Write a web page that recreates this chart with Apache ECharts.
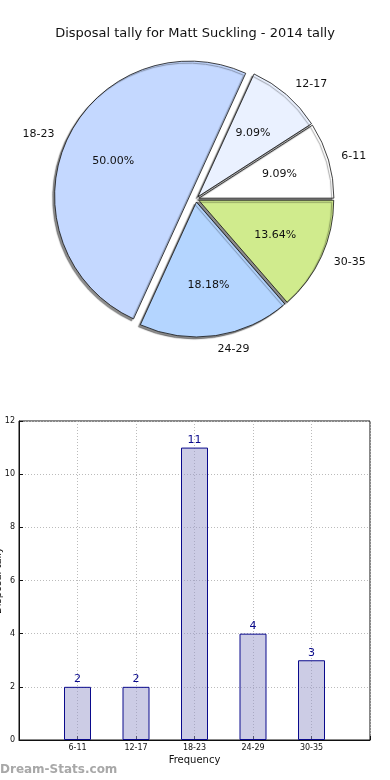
<!DOCTYPE html>
<html><head><meta charset="utf-8">
<script src="https://cdn.jsdelivr.net/npm/echarts@6/dist/echarts.min.js"></script>
<style>html,body{margin:0;padding:0;background:#fff}#c{width:390px;height:780px}</style>
</head><body><div id="c"></div>
<script>
// ---- data ----
const titleText = 'Disposal tally for Matt Suckling - 2014 tally';
const categories = ['6-11', '12-17', '18-23', '24-29', '30-35'];
const counts = [2, 2, 11, 4, 3];
const xAxisName = 'Frequency';
const yAxisName = 'Disposal tally';
const watermark = 'Dream-Stats.com';

// ---- styles ----
const sliceColors = ['#ffffff', '#eaf1ff', '#c4d8ff', '#b4d5ff', '#d0eb8d'];
const explode = [3, 3, 7, 3, 3];
const R = 135;
const CENTER = [196, 199];
const FONT = 'DejaVu Sans';

const total = counts.reduce((a, b) => a + b, 0);

function pieSeries(offset, mode) {
  const idxs = categories.map((c, i) => i).filter(i => explode[i] === offset);
  const data = categories.map((c, i) => {
    const visible = idxs.includes(i);
    return {
      name: c, value: counts[i], selected: true,
      itemStyle: visible ? (mode === 'shape' ? {
        color: sliceColors[i], borderColor: '#111', borderWidth: 0.8,
        shadowColor: 'rgba(0,0,0,0.45)', shadowBlur: 1, shadowOffsetX: -2, shadowOffsetY: 2
      } : { color: 'rgba(0,0,0,0)', borderWidth: 0 }) : { color: 'rgba(0,0,0,0)', borderWidth: 0 },
      label: { show: visible }
    };
  });
  const s = {
    type: 'pie', center: CENTER, startAngle: 0, clockwise: false,
    selectedMode: 'multiple', selectedOffset: offset, avoidLabelOverlap: false,
    animation: false, emphasis: { disabled: true }, silent: true,
    data: data
  };
  if (mode === 'shape') {
    s.radius = [0, R];
    s.z = 2;
    s.label = { show: true, position: 'outside', fontFamily: FONT, fontSize: 11, color: '#111', distanceToLabelLine: 0, formatter: '{b}' };
    s.labelLine = { show: false, length: 0.1 * R, length2: 0 };
  } else {
    s.radius = [0.2 * R, R];
    s.z = 3;
    s.label = { show: true, position: 'inside', fontFamily: FONT, fontSize: 11, color: '#111',
      formatter: p => (p.value / total * 100).toFixed(2) + '%' };
    s.labelLine = { show: false };
  }
  return s;
}

const offsets = [...new Set(explode)];
const series = [];
offsets.forEach(o => { series.push(pieSeries(o, 'shape')); });
offsets.forEach(o => { series.push(pieSeries(o, 'label')); });

const xData = [''].concat(categories, ['']);
const barData = [null].concat(counts, [null]);

series.push({
  type: 'bar', xAxisIndex: 0, yAxisIndex: 0, data: barData, barWidth: 27,
  animation: false, silent: true, z: 2,
  itemStyle: { color: 'rgba(153,153,204,0.5)', borderColor: '#0a0a8c', borderWidth: 1 },
  label: { show: true, position: 'top', distance: 2, color: '#0a0a8c', fontFamily: FONT, fontSize: 11 }
});

const gridLine = { show: true, lineStyle: { color: '#bbbbbb', type: [1, 2], width: 1 } };

const option = {
  backgroundColor: '#fff',
  animation: false,
  title: {
    text: titleText, left: 'center', top: 22,
    textStyle: { fontFamily: FONT, fontSize: 13, fontWeight: 'normal', color: '#111' }
  },
  grid: { left: 19, right: 20, top: 421, bottom: 40, show: true, borderColor: '#111', borderWidth: 1,
    containLabel: false, outerBoundsMode: 'none' },
  xAxis: {
    type: 'category', data: xData, boundaryGap: false,
    name: xAxisName, nameLocation: 'middle', nameGap: 15,
    nameTextStyle: { fontFamily: FONT, fontSize: 10, color: '#111' },
    axisLine: { lineStyle: { color: '#111' } },
    axisTick: { show: true, inside: true, length: 4, interval: 0, alignWithLabel: true, lineStyle: { color: '#111' } },
    axisLabel: { interval: 0, fontFamily: FONT, fontSize: 8, color: '#111', margin: 4 },
    splitLine: Object.assign({ interval: 0 }, gridLine)
  },
  yAxis: {
    type: 'value', min: 0, max: 12, interval: 2,
    name: yAxisName, nameLocation: 'middle', nameGap: 16, nameRotate: 90, nameMoveOverlap: false,
    nameTextStyle: { fontFamily: FONT, fontSize: 10, color: '#111' },
    axisLine: { show: true, lineStyle: { color: '#111' } },
    axisTick: { show: true, inside: true, length: 4, lineStyle: { color: '#111' } },
    axisLabel: { fontFamily: FONT, fontSize: 8, color: '#111', margin: 4 },
    splitLine: gridLine
  },
  graphic: [{
    type: 'text', left: 0, top: 764,
    style: { text: watermark, fill: '#a8a8a8', font: 'bold 12px "DejaVu Sans"' }
  }],
  series: series
};

const chart = echarts.init(document.getElementById('c'), null, { renderer: 'canvas' });
chart.setOption(option);
</script>
</body></html>
